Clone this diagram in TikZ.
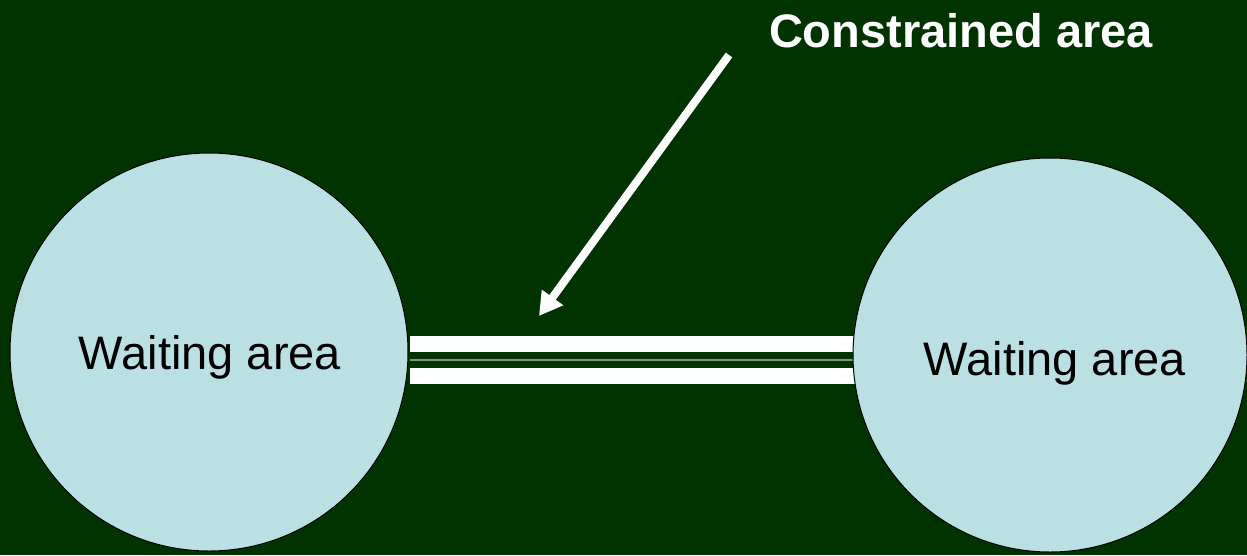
\documentclass[tikz,border=0pt]{standalone}
\usepackage{fontspec}
\setmainfont{Liberation Sans}
\usetikzlibrary{arrows.meta}
\definecolor{bggreen}{RGB}{0,51,0}
\definecolor{poolblue}{RGB}{186,224,228}
\definecolor{midline}{RGB}{128,150,128}
\tikzset{
  area/.style={circle, draw=black, line width=1pt, fill=poolblue, inner sep=0pt, minimum size=#1},
  areatext/.style={anchor=base, inner sep=0pt, text=black, font=\fontsize{47}{56}\selectfont},
  lane/.style={fill=white, draw=none},
  pointer/.style={draw=white, line width=8pt, -{Triangle[length=23pt, width=25pt]}},
}
\begin{document}
\begin{tikzpicture}[x=1pt, y=-1pt]
  % canvas
  \fill[bggreen] (0,0) rectangle (1247,555);
  \useasboundingbox (0,0) rectangle (1247,555);

  % the corridor between the two waiting areas
  \fill[lane] (410,336) rectangle (855,352);
  \fill[lane] (410,368) rectangle (855,384);
  \draw[midline, line width=1.5pt] (410,360) -- (855,360);

  % waiting areas
  \node[area=398pt] (left) at (209,352) {};
  \node[area=394pt] (right) at (1050,355) {};
  \node[areatext] (lefttext) at (210,369) {Waiting area};
  \node[areatext] (righttext) at (1055,375) {Waiting area};

  % label and pointer
  \node[anchor=base, inner sep=0pt, text=white, font=\bfseries\fontsize{47}{56}\selectfont] (title) at (961,47) {Constrained area};
  \coordinate (tail) at (729,55);
  \coordinate (tip) at (539,316);
  \draw[pointer] (tail) -- (tip);
\end{tikzpicture}
\end{document}
